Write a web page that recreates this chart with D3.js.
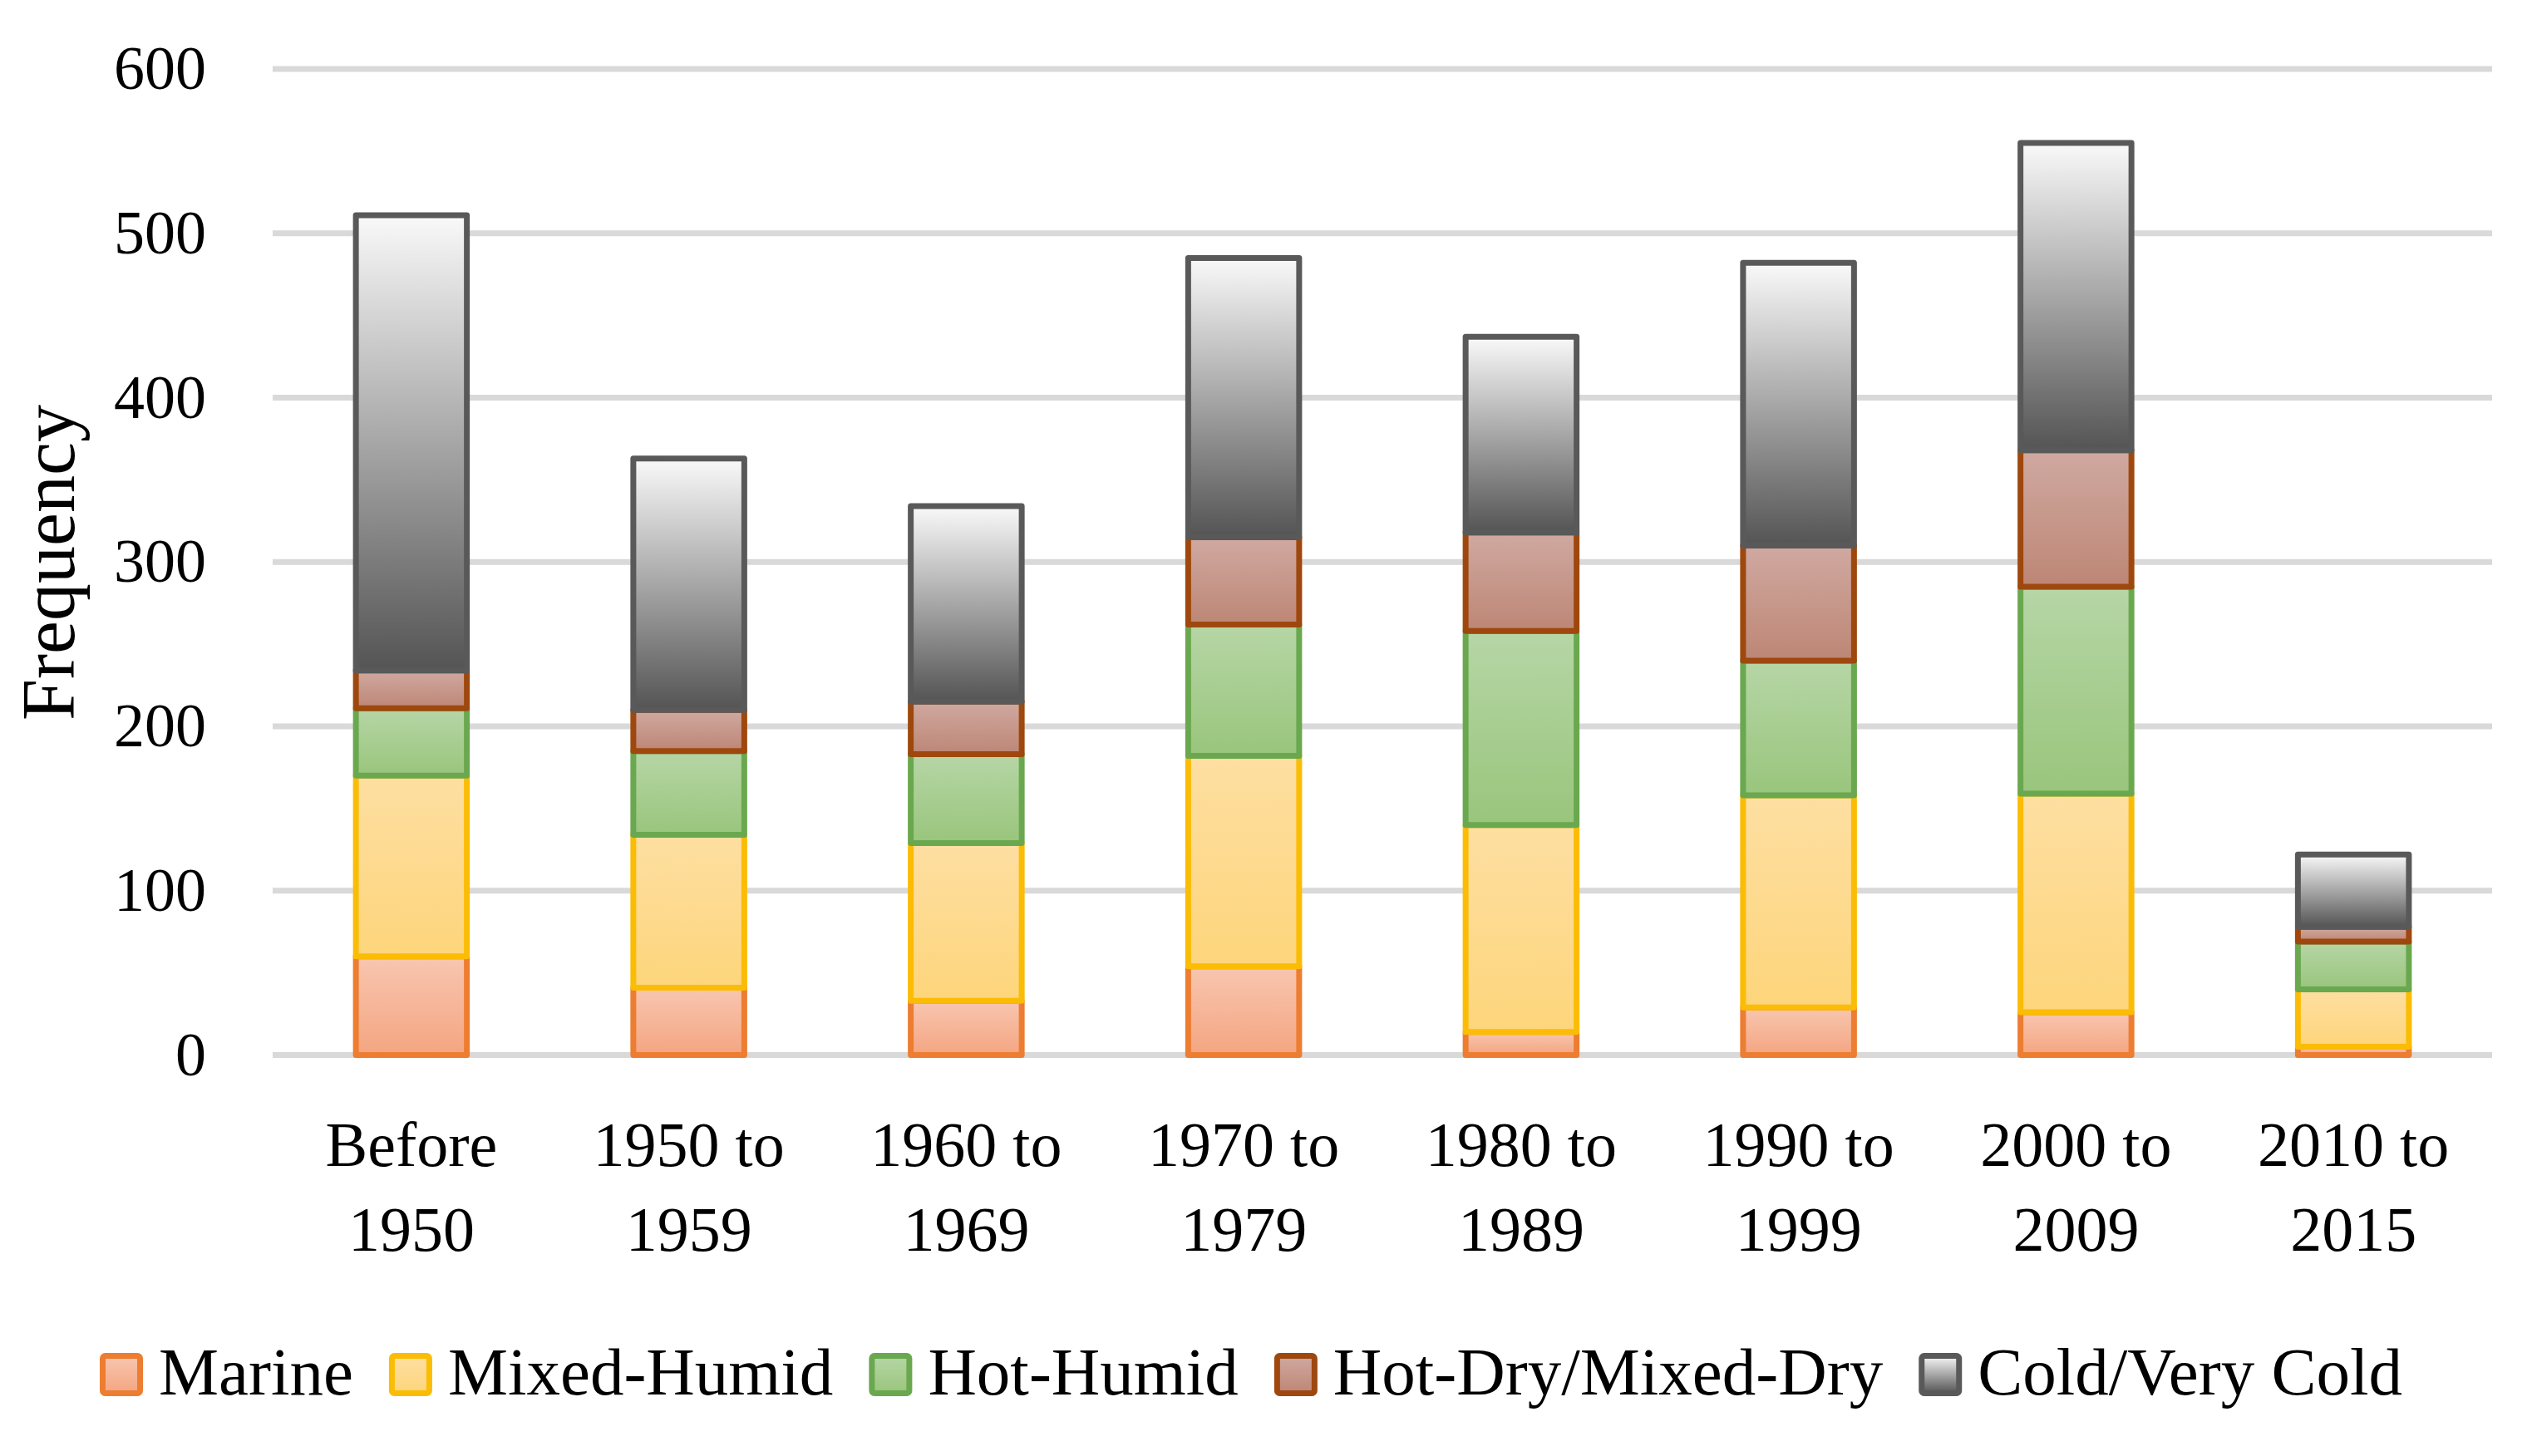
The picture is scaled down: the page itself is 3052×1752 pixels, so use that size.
<!DOCTYPE html>
<html lang="en">
<head>
    <meta charset="UTF-8">
    <title>Frequency by decade and climate zone</title>
    <script src="https://d3js.org/d3.v7.min.js"></script>
    <style>
        body {
            margin: 0;
            background: #fff;
        }
        svg text {
            font-family: "Liberation Serif", "Times New Roman", serif;
            fill: #000;
        }
        .grid line {
            stroke: #d9d9d9;
            stroke-width: 7px;
        }
    </style>
</head>
<body>
    <svg id="chart"></svg>

    <script>
        // categories (two-line tick labels)
        const categories = ["Before 1950", "1950 to 1959", "1960 to 1969", "1970 to 1979",
                            "1980 to 1989", "1990 to 1999", "2000 to 2009", "2010 to 2015"];
        const labelLines = [["Before", "1950"], ["1950 to", "1959"], ["1960 to", "1969"], ["1970 to", "1979"],
                            ["1980 to", "1989"], ["1990 to", "1999"], ["2000 to", "2009"], ["2010 to", "2015"]];

        // series values
        const seriesNames = ["Marine", "Mixed-Humid", "Hot-Humid", "Hot-Dry/Mixed-Dry", "Cold/Very Cold"];
        const marine     = [60, 41, 33, 54, 14, 29, 26, 5];
        const mixedHumid = [110, 93, 96, 128, 126, 129, 133, 35];
        const hotHumid   = [41, 51, 54, 80, 118, 82, 126, 29];
        const hotDry     = [23, 25, 32, 53, 60, 70, 83, 9];
        const cold       = [277, 153, 119, 170, 119, 172, 187, 44];
        const yTicks = [0, 100, 200, 300, 400, 500, 600];

        // colours: border, gradient top, gradient bottom
        const borders = ["#ed7d31", "#fbbc05", "#6aa84f", "#9e480e", "#595959"];
        const topCols = ["#f8c6b0", "#fedfa2", "#b6d6a6", "#d0a9a1", "#f9f9f9"];
        const botCols = ["#f4a581", "#fdd57b", "#99c57c", "#bd8675", "#545454"];

        const width = 3052;
        const height = 1752;

        const svg = d3.select("#chart")
            .attr("width", width)
            .attr("height", height);

        // build table for d3.stack
        const allSeries = [marine, mixedHumid, hotHumid, hotDry, cold];
        const table = categories.map((c, i) => {
            const row = {category: c};
            seriesNames.forEach((s, j) => row[s] = allSeries[j][i]);
            return row;
        });
        const stacked = d3.stack().keys(seriesNames)(table);

        const x = d3.scaleBand()
            .domain(categories)
            .range([328, 2998])
            .paddingInner(0.6)
            .paddingOuter(0.3);

        const y = d3.scaleLinear()
            .domain([0, 600])
            .range([1269.5, 83]);

        // gradients
        const defs = svg.append("defs");
        seriesNames.forEach((s, i) => {
            const g = defs.append("linearGradient")
                .attr("id", "grad" + i)
                .attr("x1", 0).attr("y1", 0)
                .attr("x2", 0).attr("y2", 1);
            g.append("stop").attr("offset", "0%").attr("stop-color", topCols[i]);
            g.append("stop").attr("offset", "100%").attr("stop-color", botCols[i]);
        });

        // gridlines
        svg.append("g")
            .attr("class", "grid")
            .selectAll("line")
            .data(yTicks)
            .enter().append("line")
            .attr("x1", 328)
            .attr("x2", 2998)
            .attr("y1", d => y(d))
            .attr("y2", d => y(d));

        // y tick labels
        svg.append("g")
            .selectAll("text")
            .data(yTicks)
            .enter().append("text")
            .attr("x", 248)
            .attr("y", d => y(d) + 24)
            .attr("text-anchor", "end")
            .style("font-size", "74px")
            .text(d => d);

        // y axis title
        svg.append("text")
            .attr("transform", "translate(89,677) rotate(-90)")
            .attr("text-anchor", "middle")
            .style("font-size", "90px")
            .text("Frequency");

        // stacked bars
        svg.append("g")
            .selectAll("g")
            .data(stacked)
            .enter().append("g")
            .attr("fill", (d, i) => "url(#grad" + i + ")")
            .attr("stroke", (d, i) => borders[i])
            .attr("stroke-width", 7)
            .attr("stroke-linejoin", "round")
            .selectAll("rect")
            .data(d => d)
            .enter().append("rect")
            .attr("x", d => x(d.data.category))
            .attr("y", d => y(d[1]))
            .attr("width", x.bandwidth())
            .attr("height", d => y(d[0]) - y(d[1]));

        // x tick labels
        const xLab = svg.append("g")
            .selectAll("text")
            .data(categories)
            .enter().append("text")
            .attr("x", d => x(d) + x.bandwidth() / 2)
            .attr("y", 1403)
            .attr("text-anchor", "middle")
            .style("font-size", "76px");
        xLab.selectAll("tspan")
            .data((d, i) => labelLines[i])
            .enter().append("tspan")
            .attr("x", function() { return this.parentNode.getAttribute("x"); })
            .attr("dy", (d, i) => i === 0 ? 0 : 102)
            .text(d => d);

        // legend, laid out in a row then centred
        const legend = svg.append("g");
        let cursor = 0;
        seriesNames.forEach((s, i) => {
            const item = legend.append("g").attr("transform", "translate(" + cursor + ",0)");
            item.append("rect")
                .attr("x", 3.5).attr("y", 1631.5)
                .attr("width", 45).attr("height", 45)
                .attr("rx", 3)
                .attr("fill", "url(#grad" + i + ")")
                .attr("stroke", borders[i])
                .attr("stroke-width", 7);
            const t = item.append("text")
                .attr("x", 71)
                .attr("y", 1678)
                .style("font-size", "81px")
                .text(s);
            cursor += 71 + t.node().getComputedTextLength() + 43;
        });
        const legendWidth = cursor - 43;
        legend.attr("transform", "translate(" + (1505 - legendWidth / 2) + ",0)");
    </script>
</body>
</html>
